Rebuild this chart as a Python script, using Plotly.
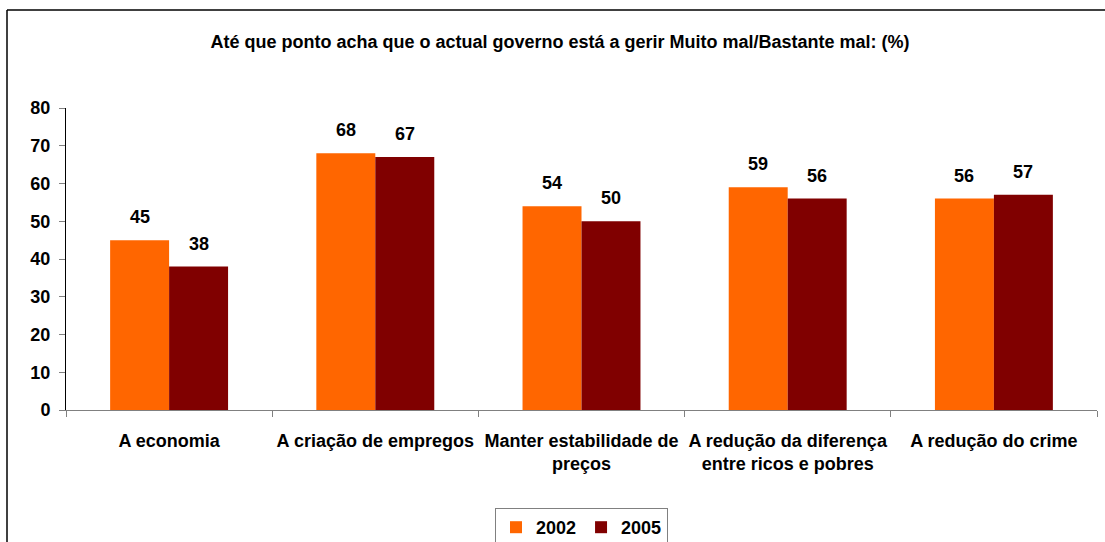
import plotly.graph_objects as go

categories = ["A economia", "A criação de empregos", "Manter estabilidade de<br>preços",
              "A redução da diferença<br>entre ricos e pobres", "A redução do crime"]
series_names = ["2002", "2005"]
values_2002 = [45, 68, 54, 59, 56]
values_2005 = [38, 67, 50, 56, 57]
y_ticks = [0, 10, 20, 30, 40, 50, 60, 70, 80]
title_text = "Até que ponto acha que o actual governo está a gerir Muito mal/Bastante mal: (%)"

colors = ["#FF6600", "#800000"]
FONT = "Liberation Sans, Arial, sans-serif"
FS = 18

W, H = 1105, 542
L, R, T, B = 66, 8, 108, 132
pw, ph = W - L - R, H - T - B

fig = go.Figure()
for name, vals, c in zip(series_names, [values_2002, values_2005], colors):
    fig.add_trace(go.Bar(name=name, x=categories, y=vals, marker=dict(color=c, line=dict(width=0))))

ann = []
for i, vals in enumerate([values_2002, values_2005]):
    xs = -29.5 if i == 0 else 29.5
    for cat, v in zip(categories, vals):
        ann.append(dict(x=cat, y=v, text=str(v), showarrow=False, xref="x", yref="y",
                        xshift=xs, yshift=23, yanchor="middle",
                        font=dict(family=FONT, size=FS, color="black", weight="bold")))

def px_x(x):
    return (x - L) / pw

def px_y(y):
    return (H - B - y) / ph

shapes = [
    dict(type="line", xref="paper", yref="paper", x0=px_x(7), x1=px_x(1106), y0=px_y(10), y1=px_y(10),
         line=dict(color="black", width=1.5)),
    dict(type="line", xref="paper", yref="paper", x0=px_x(7), x1=px_x(7), y0=px_y(10), y1=px_y(543),
         line=dict(color="black", width=1.5)),
]

fig.update_layout(
    template="none",
    width=W, height=H,
    margin=dict(l=L, r=R, t=T, b=B, autoexpand=False),
    paper_bgcolor="white", plot_bgcolor="white",
    barmode="group", bargap=0.428, bargroupgap=0,
    title=dict(text=title_text, x=560 / W, xref="container", xanchor="center",
               y=1 - 42 / H, yref="container", yanchor="middle", automargin=False,
               font=dict(family=FONT, size=FS, color="black", weight="bold")),
    font=dict(family=FONT, size=FS, color="black", weight="bold"),
    xaxis=dict(showline=True, linecolor="#808080", linewidth=1, ticks="outside", tickson="boundaries",
               ticklen=6, tickcolor="#808080", showgrid=False, automargin=False, tickangle=0,
               ticklabelstandoff=14,
               tickfont=dict(family=FONT, size=FS, color="black", weight="bold")),
    yaxis=dict(range=[0, 80], tickvals=y_ticks, showline=True, linecolor="black", linewidth=1,
               ticks="outside", ticklen=6, tickcolor="#808080", showgrid=False, zeroline=False,
               automargin=False, ticklabelstandoff=5,
               tickfont=dict(family=FONT, size=FS, color="black", weight="bold")),
    legend=dict(orientation="h", x=0.5, xanchor="center", y=px_y(508), yanchor="top",
                bordercolor="#808080", borderwidth=1, bgcolor="white", itemwidth=30,
                font=dict(family=FONT, size=FS, color="black", weight="bold")),
    annotations=ann,
    shapes=shapes,
    showlegend=True,
)

fig.write_html("out.html", config={"displayModeBar": False},
               post_script="document.body.style.margin='0';document.body.style.overflow='hidden';")
